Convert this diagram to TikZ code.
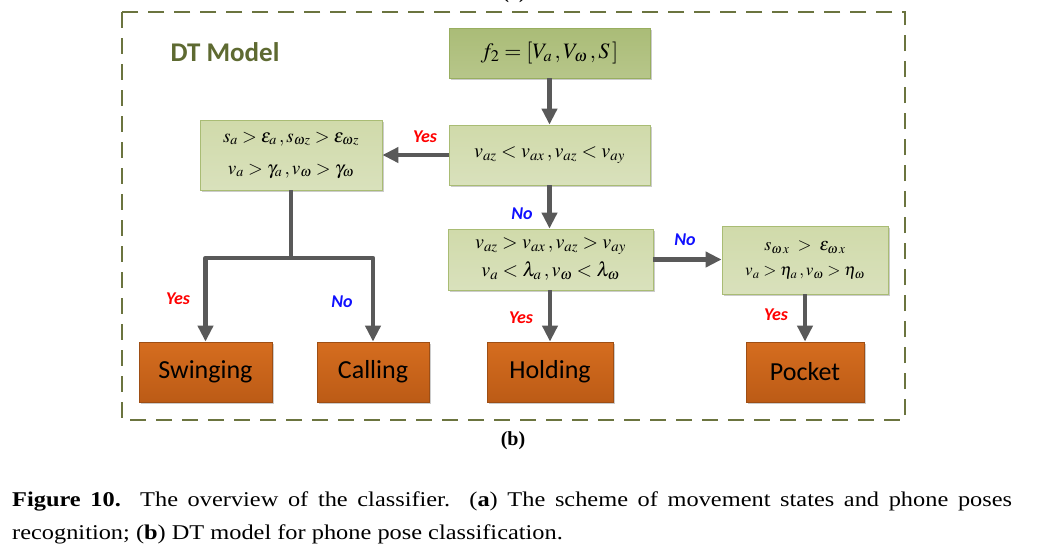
\documentclass[tikz,border=0pt]{standalone}
\usepackage{mathptmx}
\usepackage{fontspec}
\setmainfont{Liberation Serif}
\newfontfamily\calib{Carlito}
\usetikzlibrary{arrows.meta,shadows}
\definecolor{frameol}{HTML}{6B743F}
\definecolor{dttext}{HTML}{5E6A31}
\definecolor{dkgreenT}{HTML}{AABC77}
\definecolor{dkgreenB}{HTML}{B7C68A}
\definecolor{dkgreenD}{HTML}{98AE60}
\definecolor{ltgreenT}{HTML}{D0DAAA}
\definecolor{ltgreenB}{HTML}{D9E1BC}
\definecolor{ltgreenD}{HTML}{A9BC74}
\definecolor{orT}{HTML}{D56D1F}
\definecolor{orB}{HTML}{BC5B16}
\definecolor{orD}{HTML}{9E4E14}
\definecolor{arrowgray}{HTML}{595959}
\definecolor{yesred}{HTML}{FF0000}
\definecolor{noblue}{HTML}{1010FF}
\tikzset{
  boxbase/.style={rectangle, inner sep=0pt, align=center, line width=0.8pt,
    drop shadow={shadow xshift=1.5pt, shadow yshift=-1.5pt, opacity=0.2, fill=black}},
  darkbox/.style={boxbase, draw=dkgreenD, top color=dkgreenT, bottom color=dkgreenB},
  lightbox/.style={boxbase, draw=ltgreenD, top color=ltgreenT, bottom color=ltgreenB},
  leafbox/.style={boxbase, draw=orD, top color=orT, bottom color=orB, minimum height=60pt,
    font=\calib\fontsize{26}{30}\selectfont},
  flow/.style={draw=arrowgray, line width=4.5pt, -{Triangle[length=16pt,width=15pt]}},
  plainflow/.style={draw=arrowgray, line width=4.5pt, line join=round},
  yeslab/.style={text=yesred, font=\calib\bfseries\itshape\fontsize{18}{20}\selectfont},
  nolab/.style={text=noblue, font=\calib\bfseries\itshape\fontsize{18}{20}\selectfont},
  captext/.style={anchor=base west, inner sep=0pt, font=\fontsize{21}{24}\selectfont},
}
\begin{document}
\begin{tikzpicture}[x=1pt,y=-1pt]
\useasboundingbox (0,0) rectangle (1042,550);
\fill[white] (0,0) rectangle (1042,550);
% partially visible (a)
\node[font=\fontsize{20}{24}\selectfont\bfseries] (alab) at (514,-6) {(a)};
% dashed frame
\draw[frameol, line width=2.6pt, dash pattern=on 16pt off 10pt] (122,12) rectangle (905,420);
\node[text=dttext, font=\calib\bfseries\fontsize{27}{30}\selectfont] (dt) at (225,52) {DT Model};
% nodes
\node[darkbox, minimum width=201pt, minimum height=50pt, font=\fontsize{22}{26}\selectfont] (f2) at (549.5,53)
  {$f_2=[V_a\,,V_\omega\,,S\,]$};
\node[lightbox, minimum width=201pt, minimum height=60pt, font=\fontsize{20}{24}\selectfont] (c1) at (549.5,155)
  {$v_{az}<v_{ax}\,,v_{az}<v_{ay}$};
\node[lightbox, minimum width=182pt, minimum height=70pt, font=\fontsize{19}{32}\selectfont] (c0) at (291,155)
  {$s_a>\varepsilon_a\,,s_{\omega z}>\varepsilon_{\omega z}$\\ $v_a>\gamma_a\,,v_\omega>\gamma_\omega$};
\node[lightbox, minimum width=205pt, minimum height=61pt, font=\fontsize{20}{28}\selectfont] (c2) at (550.5,259.5)
  {$v_{az}>v_{ax}\,,v_{az}>v_{ay}$\\ $v_a<\lambda_a\,,v_\omega<\lambda_\omega$};
\node[lightbox, minimum width=166pt, minimum height=68pt, font=\fontsize{18}{25}\selectfont] (c3) at (805,260)
  {$s_{\omega\,x}\;>\;\varepsilon_{\omega\,x}$\\ {\fontsize{17}{25}\selectfont$v_a>\eta_a\,,v_\omega>\eta_\omega$}};
\node[leafbox, minimum width=133pt] (sw) at (205.5,372) {Swinging};
\node[leafbox, minimum width=112pt] (ca) at (373,372) {Calling};
\node[leafbox, minimum width=126pt] (ho) at (550,372) {Holding};
\node[leafbox, minimum width=118pt] (po) at (805,372) {Pocket};
% connectors
\draw[flow] (f2) -- (c1);
\draw[flow] (c1) -- (c0);
\draw[flow] (c1.south -| f2.south) -- (c2.north -| f2.south);
\draw[flow] (c2) -- (c3.west |- c2.east);
\draw[flow] (c2.south -| ho.north) -- (ho.north);
\draw[flow] (c3) -- (po);
\coordinate (fork) at (291,258);
\coordinate (forkL) at (205.5,258);
\coordinate (forkR) at (373,258);
\draw[plainflow] (c0.south) -- (fork);
\draw[flow, line join=round] (fork) -- (forkL) -- (sw.north);
\draw[flow, line join=round] (fork) -- (forkR) -- (ca.north);
% labels
\node[yeslab] (y1) at (425,137) {Yes};
\node[nolab] (n1) at (522,214) {No};
\node[nolab] (n2) at (685,240) {No};
\node[yeslab] (y2) at (521,318) {Yes};
\node[yeslab] (y3) at (776,315) {Yes};
\node[yeslab] (y4) at (178,299) {Yes};
\node[nolab] (n3) at (342,302) {No};
% caption
\node[font=\fontsize{20}{24}\selectfont] (blab) at (513,441) {\textbf{(b)}};
\node[captext] (cap1) at (12,506)
  {\scalebox{1.16}[1]{\makebox[862pt][s]{\textbf{Figure 10.}\ \ The overview of the classifier.\ \ (\textbf{a}) The scheme of movement states and phone poses}}};
\node[captext] (cap2) at (12,539)
  {\scalebox{1.16}[1]{recognition; (\textbf{b}) DT model for phone pose classification.}};
\end{tikzpicture}
\end{document}
